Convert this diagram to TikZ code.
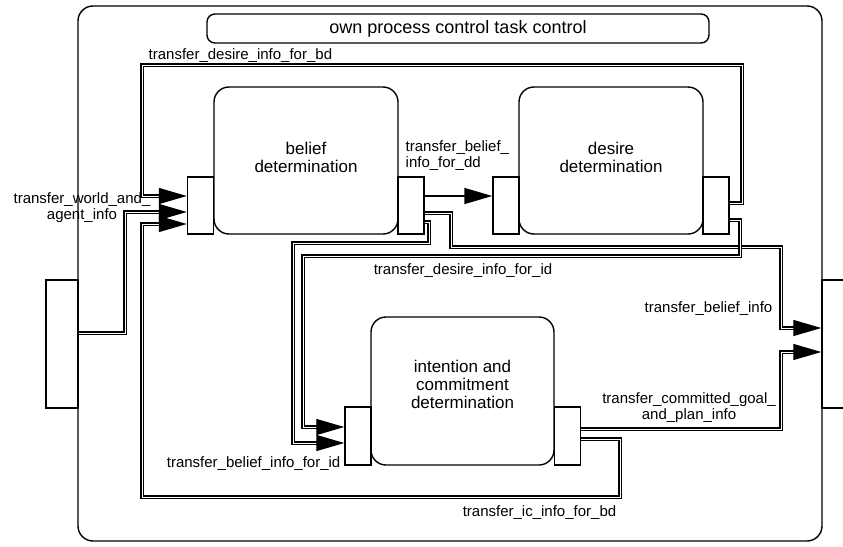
\documentclass[tikz,border=0pt]{standalone}
\usepackage{fontspec}
\setmainfont{Liberation Sans}
\usetikzlibrary{arrows.meta}

\begin{document}
\begin{tikzpicture}[x=1pt, y=-1pt, line width=1.4pt, font=\fontsize{15}{16}\selectfont,
    box/.style={draw, rounded corners=15pt, minimum width=184pt, minimum height=147pt, align=center,
      font=\fontsize{17}{18}\selectfont, text depth=7pt},
    port/.style={draw, fill=white, minimum width=26pt, minimum height=57pt, inner sep=0pt},
    link/.style={double, line width=1.35pt, double distance=0.8pt, -{Triangle[length=28pt, width=16pt]}},
    flow/.style={line width=1.5pt, -{Triangle[length=28pt, width=16pt]}},
    lbl/.style={inner sep=0pt, align=center}]
  \clip (0,0) rectangle (843,546);
  \node[draw, rounded corners=15pt, minimum width=744pt, minimum height=535pt] (frame) at (450,273.5) {};
  \node[draw, rounded corners=8pt, minimum width=502pt, minimum height=29pt, inner sep=0pt,
    font=\fontsize{18}{20}\selectfont] (OPC) at (458,28.5) {own process control task control};
  \node[draw, minimum width=32pt, minimum height=128pt] (IN) at (62,344) {};
  \node[draw, minimum width=48pt, minimum height=128pt] (OUT) at (846,344) {};

  \node[box] (BD) at (306,160.5) {belief\\determination};
  \node[port] (BDin) at (200.5,205.5) {};
  \node[port] (BDout) at (411,205.5) {};
  \node[box] (DD) at (611,160.5) {desire\\determination};
  \node[port] (DDin) at (506,205.5) {};
  \node[port] (DDout) at (716,205.5) {};
  \node[box, minimum width=183pt, minimum height=148pt, text depth=14pt] (ICD) at (462.5,391) {intention and\\commitment\\determination};
  \node[port, minimum height=58pt] (ICDin) at (358,436) {};
  \node[port, minimum height=58pt] (ICDout) at (567.5,436) {};

  \draw[link] ([yshift=11pt]IN.east) -| (125,212) -- ([yshift=-6.5pt]BDin.west);
  \node[lbl] (worldlbl) at (82,208) {transfer\_world\_and\_\\agent\_info};
  \draw[link] ([yshift=2.5pt]DDout.east) -| (742,65) -- (142,65) node[lbl, anchor=south west, xshift=6pt, yshift=2pt] {transfer\_desire\_info\_for\_bd} |- ([yshift=9.5pt]BDin.west);
  \draw[flow] ([yshift=9.5pt]BDout.east) -- ([yshift=9.5pt]DDin.west);
  \node[lbl, anchor=west, align=left] (ddlbl) at (405,156) {transfer\_belief\_\\info\_for\_dd};
  \draw[link] ([yshift=-7.5pt]BDout.east) -| (451,247) -| (781,328) -- ([yshift=16pt]OUT.west);
  \node[lbl, anchor=east] (beliefbl) at (773,309) {transfer\_belief\_info};
  \draw[link] ([yshift=-16.5pt]BDout.east) -| (429,243) -| (293,443) -- ([yshift=-7pt]ICDin.west);
  \node[lbl, anchor=east] (idlbl) at (341,464) {transfer\_belief\_info\_for\_id};
  \draw[link] ([yshift=-14.5pt]DDout.east) -| (740,256) -| (303,427) -- ([yshift=9pt]ICDin.west);
  \node[lbl] (desidlbl) at (463,271) {transfer\_desire\_info\_for\_id};
  \draw[link] ([yshift=7pt]ICDout.east) -| (781,352) -- ([yshift=-8pt]OUT.west);
  \node[lbl] (goallbl) at (689,408) {transfer\_committed\_goal\_\\and\_plan\_info};
  \draw[link] ([yshift=-3pt]ICDout.east) -| (620,497) -| (142,224) -- ([yshift=-18.5pt]BDin.west);
  \node[lbl] (iclbl) at (539.5,513) {transfer\_ic\_info\_for\_bd};
\end{tikzpicture}
\end{document}
